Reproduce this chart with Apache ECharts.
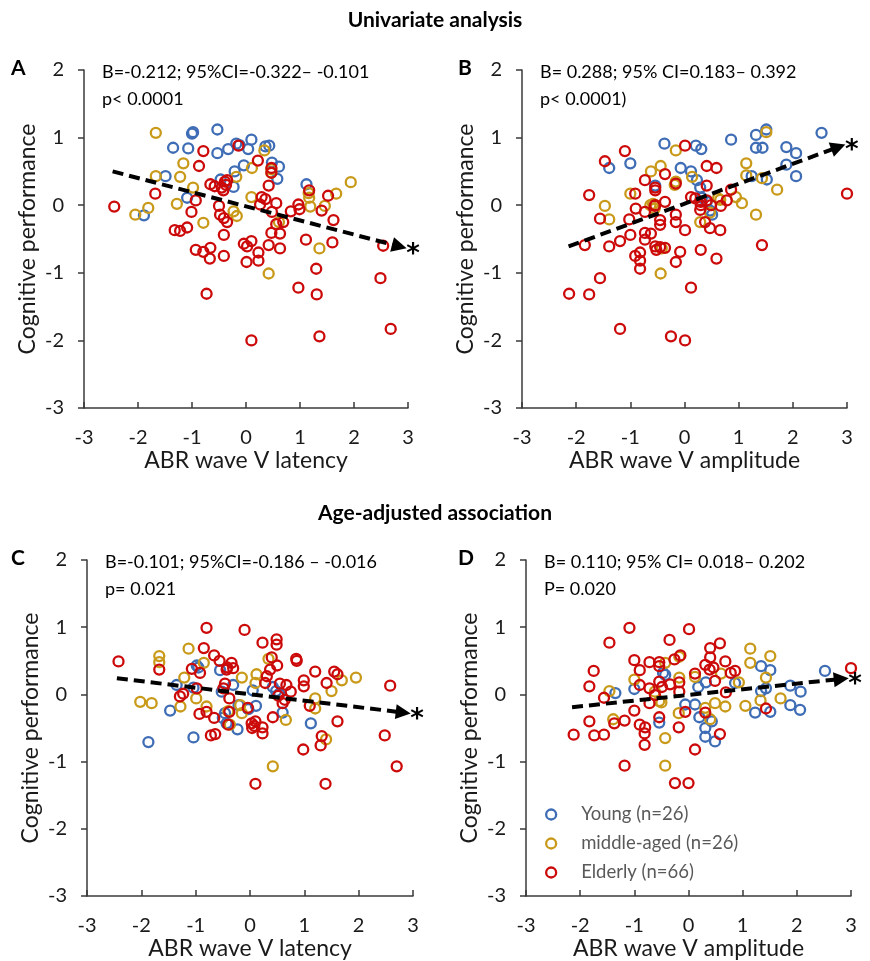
<!DOCTYPE html>
<html>
<head>
<meta charset="utf-8">
<script src="https://cdn.jsdelivr.net/npm/echarts@6/dist/echarts.min.js"></script>
<style>
html,body{margin:0;padding:0;background:#fff;}
#chart{width:870px;height:961px;}
</style>
</head>
<body>
<div id="chart"></div>
<script>
// ---------- DATA ----------
const groupNames = ['Young (n=26)', 'middle-aged (n=26)', 'Elderly (n=66)'];
const xTicks = [-3, -2, -1, 0, 1, 2, 3];
const yTicks = [-3, -2, -1, 0, 1, 2];

// Panel A: latency vs cognitive performance (univariate)
const A_young = [[-1.0,1.06],[-0.98,1.08],[-0.53,1.12],[-1.35,0.85],[-1.07,0.84],[-0.53,0.77],[-0.33,0.83],[-0.18,0.91],[0.04,0.83],[0.10,0.97],[0.43,0.88],[-0.04,0.59],[-0.21,0.50],[0.48,0.63],[0.61,0.57],[0.58,0.39],[-1.49,0.43],[-0.47,0.38],[-0.23,0.27],[-1.09,0.11],[1.12,0.31],[-1.89,-0.15],[0.36,0.87],[-0.12,0.89]];
const A_middle = [[-1.67,1.07],[-1.16,0.62],[-1.22,0.42],[-1.67,0.43],[-0.98,0.26],[-1.28,0.02],[-1.81,-0.04],[-2.05,-0.14],[-0.79,-0.26],[-0.18,0.42],[-0.23,-0.09],[-0.17,-0.16],[0.10,0.12],[0.11,0.55],[0.34,0.81],[0.47,0.53],[0.47,0.48],[0.42,-1.01],[1.17,0.11],[1.19,-0.02],[1.46,-0.01],[1.67,0.17],[1.94,0.34],[1.36,-0.64],[0.61,-0.25],[1.16,0.18]];
const A_elderly = [[-2.44,-0.02],[-1.68,0.17],[-0.79,0.80],[-0.87,0.58],[-0.14,0.88],[0.22,0.66],[0.47,0.55],[0.47,0.48],[-0.66,0.31],[-0.58,0.28],[-0.39,0.35],[-0.35,0.37],[-0.42,0.22],[-0.93,0.07],[-1.01,-0.10],[-0.50,-0.01],[-0.48,-0.14],[-0.41,-0.19],[-0.35,-0.25],[-1.32,-0.37],[-1.22,-0.38],[-1.09,-0.33],[-0.41,-0.44],[-0.93,-0.66],[-0.79,-0.69],[-0.66,-0.63],[-0.67,-0.79],[-0.41,-0.75],[-0.73,-1.31],[-0.04,-0.57],[0.02,-0.61],[0.10,-0.53],[0.01,-0.84],[0.23,-0.70],[0.23,-0.82],[0.42,-0.59],[0.63,-0.64],[0.47,-0.41],[0.63,-0.42],[0.56,-0.28],[0.42,0.29],[0.29,0.12],[0.36,0.09],[0.26,0.01],[0.56,0.03],[0.48,-0.10],[0.69,-0.25],[0.83,-0.09],[0.97,0.01],[0.99,-0.06],[1.11,-0.51],[0.97,-1.22],[1.30,-0.94],[1.31,-1.32],[1.36,-1.94],[0.10,-2.00],[1.17,0.22],[1.52,0.14],[1.40,-0.08],[1.62,-0.22],[1.60,-0.55],[2.54,-0.60],[2.49,-1.08],[2.68,-1.83],[-0.37,0.30],[-0.45,0.26]];
const A_trend = [[-2.47,0.50],[2.84,-0.61]];

// Panel B: amplitude vs cognitive performance (univariate)
const B_young = [[-0.37,0.91],[0.21,0.88],[0.31,0.83],[0.86,0.97],[1.32,1.04],[1.51,1.12],[1.32,0.85],[1.44,0.85],[1.88,0.86],[2.06,0.77],[2.53,1.07],[1.88,0.60],[2.06,0.43],[1.52,0.38],[-1.39,0.55],[-1.0,0.62],[-0.07,0.55],[0.12,0.50],[0.23,0.37],[0.29,0.26],[-0.54,0.29],[0.32,0.11],[0.51,-0.14],[0.47,-0.08],[1.24,0.43],[0.41,0.05]];
const B_middle = [[-0.16,0.81],[1.51,1.08],[1.14,0.62],[1.14,0.44],[1.43,0.40],[1.71,0.23],[0.95,0.12],[1.06,0.03],[1.32,-0.14],[-0.44,0.58],[-0.62,0.50],[-0.16,0.35],[0.14,0.42],[-1.0,0.17],[-1.47,-0.01],[-1.39,-0.21],[-0.63,0.00],[-0.55,-0.05],[0.29,-0.25],[0.47,-0.11],[0.66,0.08],[-0.42,-0.64],[-0.44,-1.01],[-0.18,0.30],[-0.58,0.02],[0.62,0.10]];
const B_elderly = [[-1.10,0.80],[-1.47,0.65],[0.01,0.88],[-0.36,0.46],[-0.73,0.37],[-0.54,0.26],[-0.54,0.22],[-0.16,0.32],[0.41,0.58],[0.59,0.55],[0.41,0.29],[0.86,0.23],[-1.76,0.15],[-0.91,0.17],[-0.90,-0.05],[-0.73,-0.10],[-0.55,-0.01],[-0.36,0.05],[0.12,0.12],[0.30,0.00],[0.29,-0.07],[0.49,0.00],[0.67,-0.01],[0.78,0.07],[0.41,0.07],[-1.56,-0.20],[-1.02,-0.21],[-0.16,-0.14],[-0.16,-0.25],[-0.45,-0.22],[-0.45,-0.29],[0.01,-0.37],[-1.0,-0.44],[-0.73,-0.41],[-0.62,-0.42],[-0.73,-0.51],[-1.19,-0.53],[-1.84,-0.59],[-1.39,-0.61],[-0.54,-0.61],[-0.36,-0.63],[-0.52,-0.66],[-0.08,-0.69],[0.30,-0.66],[0.47,-0.34],[0.66,-0.37],[0.38,-0.25],[-0.91,-0.75],[-0.82,-0.70],[-0.82,-0.82],[-0.82,-0.94],[-0.16,-0.84],[0.59,-0.79],[-1.56,-1.08],[-2.13,-1.31],[-1.76,-1.32],[0.12,-1.22],[-1.19,-1.83],[-0.25,-1.94],[0.01,-2.00],[1.43,-0.59],[3.0,0.17],[-0.54,0.00],[0.30,0.05],[-0.45,-0.62],[0.20,0.10]];
const B_trend = [[-2.14,-0.61],[2.84,0.86]];

// Panel C: latency (age-adjusted)
const C_young = [[-1.87,-0.71],[-1.04,-0.64],[-1.47,-0.24],[-1.35,0.14],[-1.04,0.10],[-0.98,0.43],[-0.55,0.36],[-0.52,0.04],[-0.31,0.14],[-0.46,-0.28],[-0.43,-0.43],[-0.23,-0.52],[-0.21,-0.16],[-0.03,-0.22],[0.11,-0.17],[0.05,0.06],[0.42,0.11],[0.60,-0.27],[1.12,-0.43],[0.54,0.01],[-0.95,0.40],[-0.50,-0.35],[0.48,0.05]];
const C_middle = [[-1.67,0.57],[-1.67,0.48],[-2.02,-0.11],[-1.81,-0.13],[-1.13,0.68],[-0.85,0.47],[-1.21,0.25],[-1.28,-0.18],[-0.99,-0.06],[-0.80,-0.18],[-0.15,0.25],[0.12,0.30],[0.10,0.17],[0.34,0.53],[-0.18,-0.16],[-0.15,-0.28],[-0.37,-0.45],[0.66,-0.38],[0.42,-1.07],[1.20,-0.06],[1.20,-0.21],[1.40,-0.67],[1.50,0.05],[1.69,0.21],[1.95,0.25],[-0.40,-0.25]];
const C_elderly = [[-2.42,0.49],[-1.67,0.37],[-0.80,0.99],[-0.85,0.69],[-0.66,0.58],[-0.56,0.50],[-0.34,0.47],[-0.31,0.39],[-0.43,0.37],[-1.07,0.38],[-0.92,0.32],[-0.46,0.16],[-0.49,0.09],[-0.98,0.09],[-1.23,0.01],[-1.29,-0.03],[-0.38,-0.06],[-0.93,-0.29],[-0.80,-0.26],[-0.66,-0.35],[-0.72,-0.61],[-0.64,-0.59],[-0.38,-0.26],[-0.40,-0.45],[-0.04,-0.20],[-0.10,0.96],[0.23,0.77],[0.49,0.82],[0.49,0.74],[0.40,0.55],[0.50,0.43],[0.37,0.37],[0.31,0.27],[0.28,0.17],[0.55,0.16],[0.67,0.14],[0.75,0.04],[0.52,-0.02],[0.60,-0.13],[0.64,-0.08],[0.42,-0.34],[0.03,-0.43],[0.10,-0.40],[0.04,-0.50],[0.23,-0.49],[0.23,-0.58],[0.10,-1.33],[0.85,0.53],[0.86,0.50],[0.99,0.21],[0.99,0.12],[1.20,0.34],[1.41,0.17],[1.55,0.34],[1.61,0.30],[1.10,-0.17],[1.61,-0.40],[1.32,-0.62],[1.30,-0.76],[0.98,-0.82],[1.39,-1.33],[2.58,0.13],[2.48,-0.61],[2.70,-1.07],[-0.42,0.40],[0.08,-0.47]];
const C_trend = [[-2.45,0.24],[2.82,-0.27]];

// Panel D: amplitude (age-adjusted)
const D_young = [[-1.35,0.02],[-1.0,0.08],[-0.43,0.29],[-0.54,-0.42],[-0.06,-0.15],[0.12,-0.15],[0.18,0.11],[0.32,0.18],[0.20,-0.34],[0.31,-0.50],[0.31,-0.63],[0.49,-0.70],[0.43,-0.40],[0.86,0.17],[1.34,0.42],[1.51,0.36],[1.34,0.05],[1.43,0.09],[1.23,-0.27],[1.51,-0.26],[1.88,0.13],[2.07,0.04],[1.88,-0.16],[2.06,-0.23],[2.52,0.35],[-0.47,0.32]];
const D_middle = [[-1.46,0.05],[-1.39,-0.37],[-1.0,0.22],[-0.43,0.47],[-0.17,0.56],[-0.17,0.25],[0.12,0.26],[-0.54,-0.10],[-0.43,-0.65],[-0.43,-1.06],[-0.18,-0.28],[0.31,-0.20],[0.40,-0.37],[0.49,-0.13],[0.68,-0.18],[0.60,0.31],[0.93,0.18],[1.05,-0.17],[1.14,0.68],[1.14,0.47],[1.51,0.57],[1.43,0.25],[1.33,-0.09],[1.70,-0.06],[-0.62,0.04],[-0.50,-0.12]];
const D_elderly = [[-2.12,-0.60],[-1.83,0.12],[-1.83,-0.40],[-1.75,0.35],[-1.74,-0.61],[-1.56,-0.05],[-1.56,-0.60],[-1.46,0.77],[-1.37,-0.43],[-1.18,-0.39],[-1.18,-1.06],[-1.09,0.99],[-1.0,0.51],[-0.90,0.36],[-0.90,0.14],[-1.0,-0.24],[-0.90,-0.45],[-0.80,-0.49],[-0.81,-0.58],[-0.81,-0.75],[-0.72,0.48],[-0.72,0.09],[-0.72,-0.13],[-0.54,0.48],[-0.54,0.42],[-0.54,0.19],[-0.49,0.11],[-0.62,-0.01],[-0.54,-0.34],[-0.35,0.81],[-0.34,0.15],[-0.26,0.52],[-0.15,0.58],[-0.17,0.18],[-0.17,0.04],[-0.18,-0.49],[-0.06,-0.26],[-0.25,-1.32],[0.0,-1.32],[0.01,0.97],[0.12,0.31],[0.12,-0.82],[0.31,-0.27],[0.31,0.44],[0.40,0.69],[0.40,0.55],[0.39,0.37],[0.46,0.40],[0.49,0.20],[0.58,0.76],[0.68,0.49],[0.69,0.03],[0.78,0.32],[0.86,0.35],[0.58,-0.59],[1.43,-0.21],[3.0,0.39]];
const D_trend = [[-2.15,-0.19],[2.82,0.23]];

const panelLetters = ['A', 'B', 'C', 'D'];
const statLines = [
  'B=-0.212; 95%CI=-0.322\u2013 -0.101\np< 0.0001',
  'B= 0.288; 95% CI=0.183\u2013 0.392\np< 0.0001)',
  'B=-0.101; 95%CI=-0.186 \u2013 -0.016\np= 0.021',
  'B= 0.110; 95% CI= 0.018\u2013 0.202\nP= 0.020'
];
const xNames = ['ABR wave V latency', 'ABR wave V amplitude', 'ABR wave V latency', 'ABR wave V amplitude'];
const yName = 'Cognitive performance';
const sectionTitles = ['Univariate analysis', 'Age-adjusted association'];

// ---------- BUILD ----------
const FONT = 'Lato, "Open Sans", sans-serif';
const colors = ['#3F6DB5', '#C99A1A', '#CC0A0A'];
const grids = [
  {left: 84, top: 70, width: 324, height: 338},
  {left: 522, top: 70, width: 325, height: 338},
  {left: 87, top: 560, width: 326, height: 338},
  {left: 526, top: 560, width: 325, height: 337}
];
const panels = [
  [A_young, A_middle, A_elderly, A_trend],
  [B_young, B_middle, B_elderly, B_trend],
  [C_young, C_middle, C_elderly, C_trend],
  [D_young, D_middle, D_elderly, D_trend]
];

const axisLineStyle = {color: '#3a3a3a', width: 1.5};
const xAxes = [], yAxes = [], series = [], graphics = [];
panels.forEach((p, i) => {
  xAxes.push({
    gridIndex: i, type: 'value', min: xTicks[0], max: xTicks[xTicks.length - 1], interval: 1,
    axisLine: {show: true, onZero: false, lineStyle: axisLineStyle},
    axisTick: {show: true, inside: true, length: 6, lineStyle: axisLineStyle},
    axisLabel: {margin: 20, fontSize: 20, color: '#1a1a1a', fontFamily: FONT},
    splitLine: {show: false},
    name: xNames[i], nameLocation: 'middle', nameGap: 41,
    nameTextStyle: {fontSize: 23, color: '#1a1a1a', fontFamily: FONT}
  });
  yAxes.push({
    gridIndex: i, type: 'value', min: yTicks[0], max: yTicks[yTicks.length - 1], interval: 1,
    axisLine: {show: true, onZero: false, lineStyle: axisLineStyle},
    axisTick: {show: true, inside: false, length: 6, lineStyle: axisLineStyle},
    axisLabel: {margin: 20, fontSize: 20, color: '#1a1a1a', fontFamily: FONT},
    splitLine: {show: false},
    name: yName, nameLocation: 'middle', nameGap: 45,
    nameTextStyle: {fontSize: 23, color: '#1a1a1a', fontFamily: FONT}
  });
  for (let g = 0; g < 3; g++) {
    series.push({
      type: 'scatter', name: groupNames[g], xAxisIndex: i, yAxisIndex: i,
      data: p[g], symbol: 'circle', symbolSize: 10,
      itemStyle: {color: 'rgba(255,255,255,0)', borderColor: colors[g], borderWidth: 2.3, opacity: 1},
      emphasis: {disabled: true}, z: 2
    });
  }
  series.push({
    type: 'lines', coordinateSystem: 'cartesian2d', xAxisIndex: i, yAxisIndex: i,
    polyline: false, silent: true, z: 5, clip: false,
    symbol: ['none', 'triangle'], symbolSize: [1, 15],
    lineStyle: {color: '#000', width: 4, type: [11, 6], opacity: 1},
    label: {
      show: true, position: 'end', distance: 7,
      formatter: '{s|*}',
      rich: {s: {fontSize: 26, fontWeight: 'bold', color: '#000', fontFamily: '"DejaVu Sans", sans-serif', padding: [14, 0, 0, 0]}}
    },
    data: [{coords: p[3]}]
  });
  const gr = grids[i];
  graphics.push({
    type: 'text', left: (i % 2 === 0 ? 11 : 458), top: gr.top - 12,
    style: {text: panelLetters[i], font: 'bold 21px ' + FONT, fill: '#000'}
  });
  graphics.push({
    type: 'text', left: gr.left + 18, top: gr.top - 11,
    style: {text: statLines[i], font: '18px ' + FONT, fill: '#000', lineHeight: 27}
  });
});
graphics.push({type: 'text', left: 'center', top: 10, style: {text: sectionTitles[0], font: 'bold 21px ' + FONT, fill: '#000'}});
graphics.push({type: 'text', left: 'center', top: 503, style: {text: sectionTitles[1], font: 'bold 21px ' + FONT, fill: '#000'}});

const option = {
  backgroundColor: '#fff',
  animation: false,
  grid: grids.map(g => Object.assign({containLabel: false}, g)),
  xAxis: xAxes,
  yAxis: yAxes,
  legend: {
    show: true, orient: 'vertical', left: 540, top: 800,
    itemWidth: 10, itemHeight: 10, itemGap: 10,
    textStyle: {fontSize: 18.5, color: '#595959', fontFamily: FONT, padding: [0, 0, 0, 20]},
    data: groupNames.map((n, g) => ({
      name: n, icon: 'circle',
      itemStyle: {color: 'rgba(255,255,255,0)', borderColor: colors[g], borderWidth: 2.3}
    }))
  },
  graphic: graphics,
  series: series
};

const chart = echarts.init(document.getElementById('chart'), null, {renderer: 'canvas'});
chart.setOption(option);
</script>
</body>
</html>
